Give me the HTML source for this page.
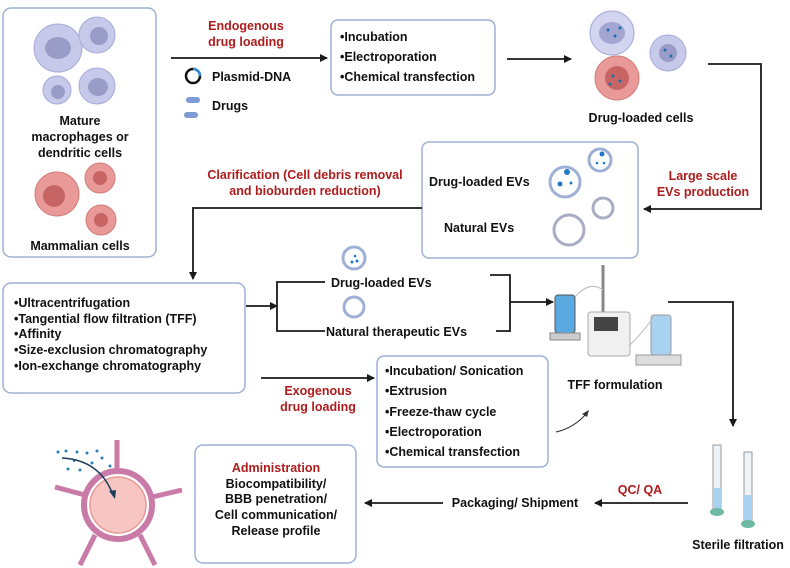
<!DOCTYPE html>
<html><head><meta charset="utf-8"><style>
html,body{margin:0;padding:0;background:#fff;}
svg{display:block;}
text{font-family:"Liberation Sans",Arial,sans-serif;font-weight:bold;font-size:12.5px;fill:#111;}
.r{fill:#b01c1c;}
.box{fill:#fff;stroke:#9fb0d6;stroke-width:1.5;}
.ln{stroke:#1a1a1a;stroke-width:1.8;fill:none;}
</style></head><body>
<svg width="790" height="568" viewBox="0 0 790 568" xmlns="http://www.w3.org/2000/svg">
<defs>
<marker id="a" markerWidth="8" markerHeight="8" refX="7" refY="4" orient="auto" markerUnits="userSpaceOnUse"><path d="M0,0 L8,4 L0,8 Z" fill="#1a1a1a"/></marker>
</defs>
<rect class="box" x="3" y="8" width="153" height="249" rx="8"/>
<g fill="#c7c9ea" stroke="#a7abd8">
<circle cx="58" cy="48" r="24"/><circle cx="97" cy="35" r="18"/><circle cx="57" cy="90" r="14"/><circle cx="97" cy="86" r="18"/>
</g>
<g fill="#9a9cc8"><ellipse cx="58" cy="48" rx="13" ry="11"/><circle cx="99" cy="36" r="9"/><circle cx="58" cy="92" r="7"/><ellipse cx="98" cy="87" rx="10" ry="9"/></g>
<text x="80" y="125" text-anchor="middle">Mature</text>
<text x="80" y="141" text-anchor="middle">macrophages or</text>
<text x="80" y="157" text-anchor="middle">dendritic cells</text>
<circle cx="57" cy="194" r="22" fill="#e99a98" stroke="#d07c7a"/><circle cx="54" cy="196" r="11" fill="#c76564"/>
<circle cx="100" cy="178" r="15" fill="#e99a98" stroke="#d07c7a"/><circle cx="100" cy="178" r="7" fill="#c76564"/>
<circle cx="101" cy="220" r="15" fill="#e99a98" stroke="#d07c7a"/><circle cx="101" cy="220" r="7" fill="#c76564"/>
<text x="80" y="250" text-anchor="middle">Mammalian cells</text>
<text class="r" x="246" y="30" text-anchor="middle">Endogenous</text>
<text class="r" x="246" y="46" text-anchor="middle">drug loading</text>
<line class="ln" x1="171" y1="58" x2="327" y2="58" marker-end="url(#a)"/>
<circle cx="193" cy="76" r="7" fill="none" stroke="#111" stroke-width="2.5"/>
<path d="M193,69 A7,7 0 0 1 200,76" fill="none" stroke="#2a8ee0" stroke-width="2.5"/>
<text x="212" y="81">Plasmid-DNA</text>
<rect x="186" y="97" width="14" height="6" rx="3" fill="#7e9bd6"/><rect x="184" y="112" width="14" height="6" rx="3" fill="#7e9bd6"/>
<text x="212" y="110">Drugs</text>
<rect class="box" x="331" y="20" width="164" height="75" rx="7"/>
<text x="340" y="41">•Incubation</text>
<text x="340" y="61">•Electroporation</text>
<text x="340" y="81">•Chemical transfection</text>
<line class="ln" x1="507" y1="59" x2="571" y2="59" marker-end="url(#a)"/>
<circle cx="612" cy="33" r="22" fill="#d3d4f0" stroke="#a7abd8"/><ellipse cx="612" cy="33" rx="13" ry="11" fill="#a4a6d2"/>
<circle cx="668" cy="53" r="18" fill="#c7c9ea" stroke="#a7abd8"/><circle cx="668" cy="53" r="9" fill="#9a9cc8"/>
<circle cx="617" cy="78" r="22" fill="#e99a98" stroke="#d07c7a"/><circle cx="617" cy="78" r="12" fill="#c76564"/>
<g fill="#1f6fb0"><circle cx="608" cy="30" r="1.5"/><circle cx="615" cy="36" r="1.5"/><circle cx="620" cy="28" r="1.5"/><circle cx="665" cy="50" r="1.5"/><circle cx="671" cy="56" r="1.5"/><circle cx="613" cy="76" r="1.5"/><circle cx="620" cy="81" r="1.5"/><circle cx="610" cy="84" r="1.5"/></g>
<text x="641" y="122" text-anchor="middle">Drug-loaded cells</text>
<polyline class="ln" points="708,64 761,64 761,209 644,209" marker-end="url(#a)"/>
<text class="r" x="703" y="180" text-anchor="middle">Large scale</text>
<text class="r" x="703" y="196" text-anchor="middle">EVs production</text>
<rect class="box" x="422" y="142" width="216" height="116" rx="7"/>
<text x="429" y="186">Drug-loaded EVs</text>
<text x="444" y="232">Natural EVs</text>
<circle cx="565" cy="182" r="15" fill="#fff" stroke="#9fb0d6" stroke-width="3"/>
<g fill="#1f78c0"><circle cx="567" cy="172" r="3"/><circle cx="560" cy="184" r="2.5"/><circle cx="571" cy="183" r="1.5"/></g>
<circle cx="600" cy="160" r="11" fill="#fff" stroke="#9fb0d6" stroke-width="3"/>
<g fill="#1f78c0"><circle cx="602" cy="154" r="2.5"/><circle cx="604" cy="163" r="1.3"/><circle cx="597" cy="163" r="1.3"/></g>
<circle cx="603" cy="208" r="10" fill="#fff" stroke="#a8adc4" stroke-width="3"/>
<circle cx="569" cy="230" r="15" fill="#fff" stroke="#a8adc4" stroke-width="3"/>
<text class="r" x="305" y="179" text-anchor="middle">Clarification (Cell debris removal</text>
<text class="r" x="305" y="195" text-anchor="middle">and bioburden reduction)</text>
<polyline class="ln" points="422,208 193,208 193,279" marker-end="url(#a)"/>
<rect class="box" x="3" y="283" width="242" height="110" rx="8"/>
<text x="14" y="307">•Ultracentrifugation</text>
<text x="14" y="323">•Tangential flow filtration (TFF)</text>
<text x="14" y="338">•Affinity</text>
<text x="14" y="354">•Size-exclusion chromatography</text>
<text x="14" y="370">•Ion-exchange chromatography</text>
<line class="ln" x1="246" y1="306" x2="277" y2="306" marker-end="url(#a)"/>
<polyline class="ln" points="325,282 277,282 277,331 325,331"/>
<circle cx="354" cy="258" r="11" fill="#fff" stroke="#9fb0d6" stroke-width="3"/>
<g fill="#1f78c0"><circle cx="352" cy="262" r="1.5"/><circle cx="357" cy="261" r="1.5"/><circle cx="355" cy="256" r="1.3"/></g>
<text x="331" y="287">Drug-loaded EVs</text>
<circle cx="354" cy="307" r="10" fill="#fff" stroke="#9fb0d6" stroke-width="3"/>
<text x="326" y="336">Natural therapeutic EVs</text>
<polyline class="ln" points="490,275 510,275 510,331 496,331"/>
<line class="ln" x1="510" y1="302" x2="553" y2="302" marker-end="url(#a)"/>
<line x1="603" y1="265" x2="603" y2="320" stroke="#888" stroke-width="3"/>
<rect x="555" y="295" width="20" height="38" rx="3" fill="#5aa9e0" stroke="#555"/>
<rect x="550" y="333" width="30" height="7" fill="#ccc" stroke="#888"/>
<rect x="588" y="312" width="42" height="44" rx="3" fill="#f0f0f0" stroke="#aaa"/>
<rect x="594" y="317" width="24" height="14" fill="#444"/>
<rect x="651" y="315" width="20" height="40" rx="3" fill="#a9d2f0" stroke="#999"/>
<rect x="636" y="355" width="45" height="10" fill="#ddd" stroke="#999"/>
<path d="M575,297 Q590,280 603,290" fill="none" stroke="#bbb"/><path d="M630,345 Q645,330 655,315" fill="none" stroke="#bbb"/>
<text x="615" y="389" text-anchor="middle">TFF formulation</text>
<polyline class="ln" points="668,302 733,302 733,426" marker-end="url(#a)"/>
<line class="ln" x1="261" y1="378" x2="374" y2="378" marker-end="url(#a)"/>
<text class="r" x="318" y="395" text-anchor="middle">Exogenous</text>
<text class="r" x="318" y="411" text-anchor="middle">drug loading</text>
<rect class="box" x="377" y="356" width="171" height="111" rx="7"/>
<text x="385" y="375">•Incubation/ Sonication</text>
<text x="385" y="395">•Extrusion</text>
<text x="385" y="416">•Freeze-thaw cycle</text>
<text x="385" y="436">•Electroporation</text>
<text x="385" y="456">•Chemical transfection</text>
<path d="M556,432 Q574,428 587,413" fill="none" stroke="#333" stroke-width="1"/>
<path d="M589,410 L582,414 L587,417 Z" fill="#333"/>
<g stroke="#999" fill="#eef3f8"><rect x="713" y="445" width="8" height="65"/><rect x="744" y="452" width="8" height="70"/></g>
<rect x="713" y="488" width="8" height="22" fill="#a9d2f0"/><rect x="744" y="495" width="8" height="27" fill="#a9d2f0"/>
<ellipse cx="717" cy="512" rx="7" ry="4" fill="#6fb9a4"/><ellipse cx="748" cy="524" rx="7" ry="4" fill="#6fb9a4"/>
<text x="738" y="549" text-anchor="middle">Sterile filtration</text>
<text class="r" x="640" y="494" text-anchor="middle">QC/ QA</text>
<line class="ln" x1="688" y1="503" x2="595" y2="503" marker-end="url(#a)"/>
<text x="515" y="507" text-anchor="middle">Packaging/ Shipment</text>
<line class="ln" x1="443" y1="503" x2="365" y2="503" marker-end="url(#a)"/>
<rect class="box" x="195" y="445" width="161" height="118" rx="8"/>
<text class="r" x="276" y="472" text-anchor="middle">Administration</text>
<text x="276" y="488" text-anchor="middle">Biocompatibility/</text>
<text x="276" y="503" text-anchor="middle">BBB penetration/</text>
<text x="276" y="519" text-anchor="middle">Cell communication/</text>
<text x="276" y="535" text-anchor="middle">Release profile</text>
<g stroke="#c97aa6" stroke-width="5" fill="none">
<line x1="117" y1="440" x2="117" y2="470"/><line x1="55" y1="487" x2="85" y2="495"/><line x1="182" y1="490" x2="152" y2="497"/>
<line x1="80" y1="565" x2="95" y2="535"/><line x1="155" y1="565" x2="140" y2="535"/>
</g>
<circle cx="118" cy="505" r="34" fill="#fff" stroke="#c97aa6" stroke-width="6"/>
<circle cx="118" cy="505" r="28" fill="#f7c6c2" stroke="#e89a98" stroke-width="1.5"/>
<g fill="#2a7fb5"><circle cx="58" cy="452" r="1.5"/><circle cx="66" cy="451" r="1.5"/><circle cx="77" cy="452" r="1.5"/><circle cx="87" cy="453" r="1.5"/><circle cx="97" cy="451" r="1.5"/><circle cx="68" cy="469" r="1.5"/><circle cx="80" cy="470" r="1.5"/><circle cx="92" cy="463" r="1.5"/><circle cx="110" cy="466" r="1.5"/><circle cx="102" cy="458" r="1.5"/><circle cx="74" cy="461" r="1.2"/></g>
<path d="M62,458 Q100,460 113,495" fill="none" stroke="#1b3b5a" stroke-width="1.5"/>
<path d="M115,499 L109,491 L116,490 Z" fill="#1b3b5a"/>
</svg>
</body></html>
